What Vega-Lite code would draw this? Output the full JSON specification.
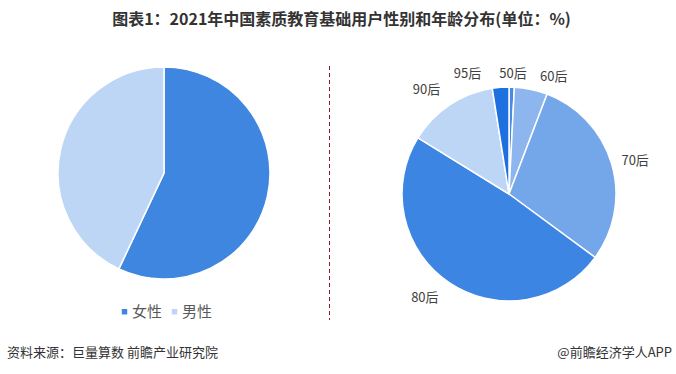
{
  "$schema": "https://vega.github.io/schema/vega-lite/v6.json",
  "background": "white",
  "padding": {"left": 7, "top": 12, "right": 0, "bottom": 0},
  "title": {
    "text": "图表1：2021年中国素质教育基础用户性别和年龄分布(单位：%)",
    "font": "Noto Sans CJK SC",
    "fontSize": 16,
    "fontWeight": "bold",
    "color": "#333333",
    "anchor": "middle",
    "offset": 36
  },
  "config": {
    "view": {"stroke": null},
    "font": "Noto Sans CJK SC"
  },
  "datasets": {
    "gender": [
      {"category": "女性", "value": 57},
      {"category": "男性", "value": 43}
    ],
    "age": [
      {"category": "50后", "value": 0.8},
      {"category": "60后", "value": 5.0},
      {"category": "70后", "value": 29.3},
      {"category": "80后", "value": 48.7},
      {"category": "90后", "value": 13.7},
      {"category": "95后", "value": 2.5}
    ],
    "footer": [
      {"side": "left", "text": "资料来源：巨量算数 前瞻产业研究院"},
      {"side": "right", "text": "@前瞻经济学人APP"}
    ]
  },
  "vconcat": [
    {
      "hconcat": [
        {
          "hconcat": [
            {
              "width": 314,
              "height": 214,
              "data": {"name": "gender"},
              "mark": {"type": "arc", "radius": 106, "stroke": "white", "strokeWidth": 1.5},
              "encoding": {
                "theta": {"field": "value", "type": "quantitative", "stack": true},
                "color": {
                  "field": "category",
                  "type": "nominal",
                  "sort": ["女性", "男性"],
                  "scale": {"domain": ["女性", "男性"], "range": ["#3F86E0", "#BDD6F5"]},
                  "legend": {
                    "title": null,
                    "orient": "none",
                    "legendX": 110,
                    "legendY": 238,
                    "direction": "horizontal",
                    "symbolType": "square",
                    "symbolSize": 30,
                    "symbolStrokeWidth": 0,
                    "labelFontSize": 15,
                    "labelColor": "#595959",
                    "labelFont": "Noto Sans CJK SC",
                    "columnPadding": 4,
                    "labelOffset": 0
                  }
                },
                "order": {"field": "category", "sort": "ascending"}
              }
            },
            {
              "width": 1,
              "height": 254,
              "data": {"values": [{"d": "divider"}]},
              "mark": {"type": "rule", "color": "#8B1A2B", "strokeDash": [4, 3], "strokeWidth": 1},
              "encoding": {
                "x": {"field": "d", "type": "nominal", "scale": {"type": "point"}, "axis": null}
              }
            }
          ],
          "spacing": 8,
          "resolve": {"scale": {"color": "independent", "theta": "independent"}, "legend": {"color": "independent"}}
        },
        {
          "width": 334,
          "height": 256,
          "data": {"name": "age"},
          "encoding": {
            "theta": {"field": "value", "type": "quantitative", "stack": true},
            "order": {"field": "category", "sort": "ascending"}
          },
          "layer": [
            {
              "mark": {"type": "arc", "radius": 107, "stroke": "white", "strokeWidth": 1.5},
              "encoding": {
                "color": {
                  "field": "category",
                  "type": "nominal",
                  "scale": {
                    "domain": ["50后", "60后", "70后", "80后", "90后", "95后"],
                    "range": ["#4A8BE2", "#8DB6EE", "#74A6EA", "#3D85E3", "#BED6F5", "#1E6FE0"]
                  },
                  "legend": null
                }
              }
            },
            {
              "mark": {"type": "text", "radius": 120, "dx": 1, "fontSize": 13, "color": "#404040"},
              "encoding": {"text": {"condition": {"test": "datum.category === '50后'", "field": "category"}, "value": ""}}
            },
            {
              "mark": {"type": "text", "radius": 120, "dx": 20, "fontSize": 13, "color": "#404040"},
              "encoding": {"text": {"condition": {"test": "datum.category === '60后'", "field": "category"}, "value": ""}}
            },
            {
              "mark": {"type": "text", "radius": 120, "dx": 11, "dy": 1, "fontSize": 13, "color": "#404040"},
              "encoding": {"text": {"condition": {"test": "datum.category === '70后'", "field": "category"}, "value": ""}}
            },
            {
              "mark": {"type": "text", "radius": 120, "dx": -17, "dy": 5, "fontSize": 13, "color": "#404040"},
              "encoding": {"text": {"condition": {"test": "datum.category === '80后'", "field": "category"}, "value": ""}}
            },
            {
              "mark": {"type": "text", "radius": 120, "dx": -16, "dy": -4, "fontSize": 13, "color": "#404040"},
              "encoding": {"text": {"condition": {"test": "datum.category === '90后'", "field": "category"}, "value": ""}}
            },
            {
              "mark": {"type": "text", "radius": 120, "dx": -32, "fontSize": 13, "color": "#404040"},
              "encoding": {"text": {"condition": {"test": "datum.category === '95后'", "field": "category"}, "value": ""}}
            }
          ]
        }
      ],
      "spacing": 12,
      "resolve": {"scale": {"color": "independent", "theta": "independent"}, "legend": {"color": "independent"}}
    },
    {
      "width": 665,
      "height": 14,
      "data": {"name": "footer"},
      "encoding": {
        "x": {"field": "side", "type": "nominal", "scale": {"type": "point", "domain": ["left", "right"], "padding": 0}, "axis": null},
        "text": {"field": "text"}
      },
      "layer": [
        {
          "transform": [{"filter": "datum.side === 'left'"}],
          "mark": {"type": "text", "align": "left", "fontSize": 13, "color": "#333333"}
        },
        {
          "transform": [{"filter": "datum.side === 'right'"}],
          "mark": {"type": "text", "align": "right", "fontSize": 13, "color": "#333333"}
        }
      ]
    }
  ],
  "spacing": 24
}
